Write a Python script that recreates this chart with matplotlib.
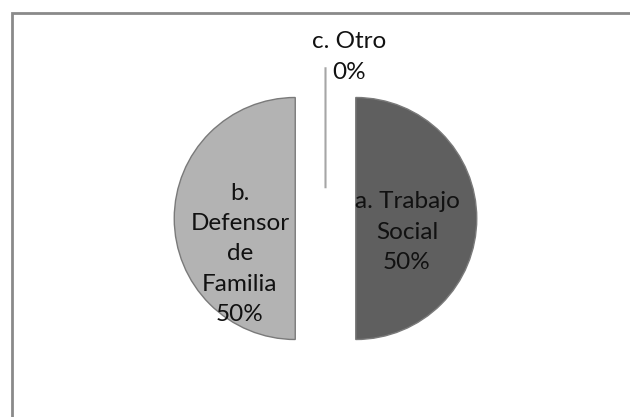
import matplotlib.pyplot as plt
from matplotlib.patches import Rectangle

plt.rcParams['font.family'] = ['Lato', 'DejaVu Sans']

# respuestas por opcion
categorias = ['a. Trabajo\nSocial', 'b.\nDefensor\nde\nFamilia', 'c. Otro']
valores = [50, 50, 0]
colores = ['#5f5f5f', '#b3b3b3', '#ffffff']
bordes = ['#7a7a7a', '#7a7a7a', '#a6a6a6']

W, H = 630, 417
fig = plt.figure(figsize=(W / 100, H / 100), dpi=100)
ax = fig.add_axes([0, 0, 1, 1])

# explode va en unidades de datos (pixeles aqui)
cx, cy, r = 325.5, H - 218.5, 121
sep = 0.25 * r
wedges, _ = ax.pie(valores, startangle=90, counterclock=False,
                   explode=[sep, sep, sep], radius=r, center=(cx, cy),
                   colors=colores, wedgeprops=dict(linewidth=1.0))
for w, b in zip(wedges, bordes):
    w.set_edgecolor(b)
wedges[2].set_linewidth(1.5)

total = sum(valores)
etiquetas = [f'{c}\n{v / total * 100:.0f}%' for c, v in zip(categorias, valores)]

# posiciones de las etiquetas (pixeles desde arriba)
pos = [(407, 232), (240, 254), (349, 57)]
for txt, (x, y) in zip(etiquetas, pos):
    ax.text(x, H - y, txt, ha='center', va='center', fontsize=17.5,
            color='#111111', linespacing=1.53)

# marco del grafico
ax.add_patch(Rectangle((11.5, -20), 660, H - 12.5 + 20, fill=False,
                       edgecolor='#8a8a8a', linewidth=2, clip_on=False))

ax.set_xlim(0, W)
ax.set_ylim(0, H)
ax.set_aspect('auto')
ax.axis('off')

fig.savefig('out.png', dpi=100)
